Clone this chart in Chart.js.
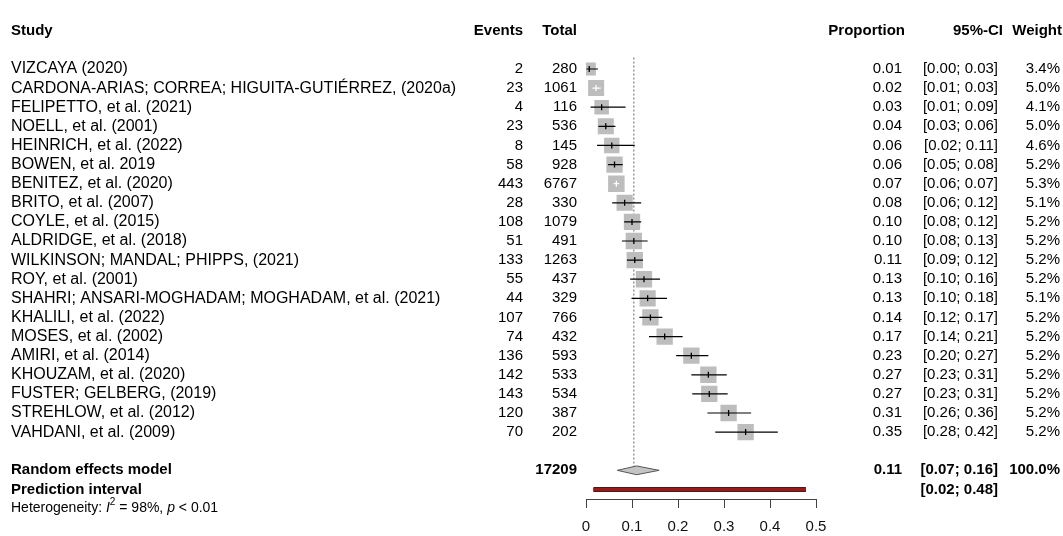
<!DOCTYPE html>
<html>
<head>
<meta charset="utf-8">
<script src="https://cdn.jsdelivr.net/npm/chart.js@4.4.1/dist/chart.umd.min.js"></script>
<style>
  html, body { margin: 0; padding: 0; background: #fff; }
  #wrap { width: 1063px; height: 536px; }
</style>
</head>
<body>
<div id="wrap"><canvas id="forest"></canvas></div>
<script>
// Study data
const studies = [
  "VIZCAYA (2020)",
  "CARDONA-ARIAS; CORREA; HIGUITA-GUTIÉRREZ, (2020a)",
  "FELIPETTO, et al. (2021)",
  "NOELL, et al. (2001)",
  "HEINRICH, et al. (2022)",
  "BOWEN, et al. 2019",
  "BENITEZ, et al. (2020)",
  "BRITO, et al. (2007)",
  "COYLE, et al. (2015)",
  "ALDRIDGE, et al. (2018)",
  "WILKINSON; MANDAL; PHIPPS, (2021)",
  "ROY, et al. (2001)",
  "SHAHRI; ANSARI-MOGHADAM; MOGHADAM, et al. (2021)",
  "KHALILI, et al. (2022)",
  "MOSES, et al. (2002)",
  "AMIRI, et al. (2014)",
  "KHOUZAM, et al. (2020)",
  "FUSTER; GELBERG, (2019)",
  "STREHLOW, et al. (2012)",
  "VAHDANI, et al. (2009)"
];
const events = [2, 23, 4, 23, 8, 58, 443, 28, 108, 51, 133, 55, 44, 107, 74, 136, 142, 143, 120, 70];
const totals = [280, 1061, 116, 536, 145, 928, 6767, 330, 1079, 491, 1263, 437, 329, 766, 432, 593, 533, 534, 387, 202];
const proportion = [0.007, 0.022, 0.034, 0.043, 0.056, 0.062, 0.066, 0.084, 0.100, 0.104, 0.106, 0.126, 0.134, 0.140, 0.171, 0.229, 0.266, 0.268, 0.310, 0.347];
const ciLow  = [0.001, 0.014, 0.010, 0.027, 0.024, 0.048, 0.060, 0.057, 0.083, 0.078, 0.089, 0.096, 0.099, 0.116, 0.137, 0.196, 0.229, 0.231, 0.264, 0.281];
const ciHigh = [0.026, 0.032, 0.086, 0.064, 0.106, 0.080, 0.072, 0.120, 0.120, 0.134, 0.124, 0.161, 0.176, 0.166, 0.210, 0.266, 0.306, 0.308, 0.359, 0.417];
const weights = [3.4, 5.0, 4.1, 5.0, 4.6, 5.2, 5.3, 5.1, 5.2, 5.2, 5.2, 5.2, 5.1, 5.2, 5.2, 5.2, 5.2, 5.2, 5.2, 5.2];

// pooled estimate and prediction interval
const pooled = [0.068, 0.11, 0.159];   // low, est, high
const predInterval = [0.016, 0.478];
const refLine = 0.104;
const totalN = 17209;
const xTicks = [0, 0.1, 0.2, 0.3, 0.4, 0.5];

// row layout: header -2, studies 0..19, model 21, prediction 22, heterogeneity 23
const ROW_HEADER = -2, ROW_MODEL = 21, ROW_PRED = 22, ROW_HET = 23;
const FONT = "'Liberation Sans', Arial, sans-serif";

const sideOf = w => 16.5 * Math.sqrt(w / 5.3);
const lineColor = (chart, i) => {
  const sx = chart.scales.x;
  if (!sx) return "#000";
  const wpx = sx.getPixelForValue(ciHigh[i]) - sx.getPixelForValue(ciLow[i]);
  return wpx < 0.7 * sideOf(weights[i]) ? "#fff" : "#000";
};

const ciSets = studies.map((s, i) => ({
  data: [{ x: ciLow[i], y: i }, { x: ciHigh[i], y: i }],
  showLine: true,
  borderWidth: 1.2,
  borderColor: c => lineColor(c.chart, i),
  pointRadius: 0
}));

const textPlugin = {
  id: "forestText",
  afterDraw(chart) {
    const ctx = chart.ctx;
    const y = r => chart.scales.y.getPixelForValue(r);
    ctx.save();
    ctx.fillStyle = "#000";
    ctx.textBaseline = "middle";
    const put = (txt, x, r, align, bold, size) => {
      ctx.font = (bold ? "bold " : "") + (size || 15) + "px " + FONT;
      ctx.textAlign = align;
      ctx.fillText(txt, x, y(r));
    };
    // header
    put("Study", 11, ROW_HEADER, "left", true);
    put("Events", 523, ROW_HEADER, "right", true);
    put("Total", 577, ROW_HEADER, "right", true);
    put("Proportion", 905, ROW_HEADER, "right", true);
    put("95%-CI", 1003, ROW_HEADER, "right", true);
    put("Weight", 1062, ROW_HEADER, "right", true);
    // studies
    studies.forEach((s, i) => {
      put(s, 11, i, "left", false, 16);
      put(String(events[i]), 523, i, "right");
      put(String(totals[i]), 577, i, "right");
      put(proportion[i].toFixed(2), 902, i, "right");
      put("[" + ciLow[i].toFixed(2) + "; " + ciHigh[i].toFixed(2) + "]", 998, i, "right");
      put(weights[i].toFixed(1) + "%", 1060, i, "right");
    });
    // summary
    put("Random effects model", 11, ROW_MODEL, "left", true);
    put(String(totalN), 577, ROW_MODEL, "right", true);
    put(pooled[1].toFixed(2), 902, ROW_MODEL, "right", true);
    put("[" + pooled[0].toFixed(2) + "; " + pooled[2].toFixed(2) + "]", 998, ROW_MODEL, "right", true);
    put("100.0%", 1060, ROW_MODEL, "right", true);
    put("Prediction interval", 11, ROW_PRED, "left", true);
    put("[" + predInterval[0].toFixed(2) + "; " + predInterval[1].toFixed(2) + "]", 998, ROW_PRED, "right", true);

    // heterogeneity line with italic I, superscript 2, italic p
    let x = 11;
    const yy = y(ROW_HET);
    ctx.textAlign = "left";
    const seg = (txt, style, size, dy) => {
      ctx.font = style + size + "px " + FONT;
      ctx.fillText(txt, x, yy + (dy || 0));
      x += ctx.measureText(txt).width;
    };
    seg("Heterogeneity: ", "", 14);
    seg("I", "italic ", 14);
    seg("2", "", 10, -6);
    seg(" = 98%, ", "", 14);
    seg("p", "italic ", 14);
    seg(" < 0.01", "", 14);
    ctx.restore();
  }
};

new Chart(document.getElementById("forest"), {
  type: "scatter",
  data: {
    datasets: [
      // small vertical marks at each estimate
      {
        data: proportion.map((p, i) => ({ x: p, y: i })),
        pointStyle: "line",
        pointRotation: 90,
        pointRadius: 3,
        pointBorderWidth: 1.3,
        pointBorderColor: c => lineColor(c.chart, c.dataIndex)
      },
      ...ciSets,
      // weighted squares
      {
        data: proportion.map((p, i) => ({ x: p, y: i })),
        pointStyle: "rect",
        pointRadius: c => sideOf(weights[c.dataIndex]) / Math.SQRT2,
        pointBackgroundColor: "#bdbdbd",
        pointBorderWidth: 0
      },
      // pooled diamond
      {
        data: [
          { x: pooled[0], y: ROW_MODEL },
          { x: pooled[1], y: ROW_MODEL - 0.23 },
          { x: pooled[2], y: ROW_MODEL },
          { x: pooled[1], y: ROW_MODEL + 0.23 },
          { x: pooled[0], y: ROW_MODEL }
        ],
        showLine: true,
        fill: "shape",
        backgroundColor: "#c4c4c4",
        borderColor: "#555",
        borderWidth: 1,
        pointRadius: 0
      },
      // prediction interval (red with dark outline)
      {
        data: [{ x: predInterval[0], y: ROW_PRED }, { x: predInterval[1], y: ROW_PRED }],
        showLine: true, borderColor: "#a11616", borderWidth: 3, pointRadius: 0, borderCapStyle: "butt"
      },
      {
        data: [{ x: predInterval[0], y: ROW_PRED }, { x: predInterval[1], y: ROW_PRED }],
        showLine: true, borderColor: "#3a2020", borderWidth: 5, pointRadius: 0, borderCapStyle: "butt"
      },
      // dotted reference line at pooled estimate
      {
        data: [{ x: refLine, y: -0.6 }, { x: refLine, y: ROW_MODEL - 0.23 }],
        showLine: true, borderColor: "#666", borderWidth: 1, borderDash: [2, 2], pointRadius: 0
      }
    ]
  },
  options: {
    responsive: true,
    maintainAspectRatio: false,
    animation: false,
    layout: { padding: { left: 586, right: 247, top: 4, bottom: 0 } },
    plugins: { legend: { display: false }, tooltip: { enabled: false } },
    scales: {
      x: {
        type: "linear",
        min: 0,
        max: 0.5,
        afterFit: s => { s.height = 37; },
        afterBuildTicks: s => { s.ticks = xTicks.map(v => ({ value: v })); },
        border: { display: true, color: "#444", width: 1 },
        grid: { drawOnChartArea: false, drawTicks: true, tickLength: 9, tickColor: "#444", color: "#444" },
        ticks: {
          padding: 10,
          color: "#111",
          font: { family: FONT, size: 15 },
          maxRotation: 0,
          callback: v => String(+v.toFixed(1))
        }
      },
      y: {
        type: "linear",
        display: false,
        reverse: true,
        min: -3,
        max: 22.5
      }
    }
  },
  plugins: [textPlugin]
});
</script>
</body>
</html>
